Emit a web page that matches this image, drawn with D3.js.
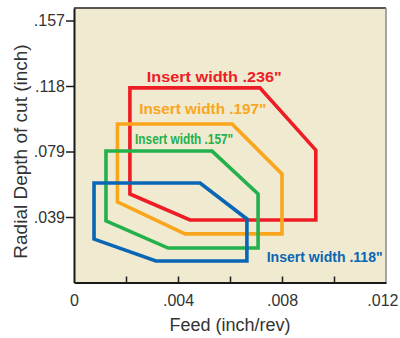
<!DOCTYPE html>
<html><head><meta charset="utf-8">
<script src="https://cdn.jsdelivr.net/npm/d3@7"></script>
<style>
html,body{margin:0;padding:0;background:#fff;}
svg{display:block;font-family:"Liberation Sans",Arial,Helvetica,sans-serif;}
</style></head>
<body><svg id="c" width="400" height="338"></svg>
<script>
// ---- data ----
const series = ["Insert width .236\"", "Insert width .197\"", "Insert width .157\"", "Insert width .118\""];
const redX = [0.00215, 0.00715, 0.0093, 0.0093, 0.00446, 0.00215];
const redY = [0.117, 0.117, 0.0796, 0.0376, 0.0376, 0.0532];
const orangeX = [0.00167, 0.00608, 0.0080, 0.0080, 0.00427, 0.00167];
const orangeY = [0.0953, 0.0953, 0.0652, 0.0292, 0.0292, 0.0484];
const greenX = [0.00123, 0.00531, 0.00708, 0.00708, 0.00362, 0.00123];
const greenY = [0.0790, 0.0790, 0.0532, 0.0207, 0.0207, 0.0370];
const blueX = [0.00077, 0.00485, 0.00665, 0.00665, 0.00315, 0.00077];
const blueY = [0.0598, 0.0598, 0.0382, 0.0129, 0.0129, 0.0261];
const yTickValues = [0.03937, 0.07874, 0.11811, 0.15748];
const yTickLabels = [".039", ".079", ".118", ".157"];
const xTickValues = [0, 0.002, 0.004, 0.006, 0.008, 0.010, 0.012];
const xTickLabels = ["0", "", ".004", "", ".008", "", ".012"];
const xTitle = "Feed (inch/rev)";
const yTitle = "Radial Depth of cut (inch)";

// ---- layout / style ----
const colors = ["#ee1d25", "#f9a61c", "#24b04b", "#0866b4"];
const labelAnchors = [[0.0028, 0.1208, 135], [0.00251, 0.1013, 127], [0.00235, 0.0833, 98], [0.00741, 0.0126, 116]];

const svg = d3.select("#c");
const L = 74, R = 386, T = 8, B = 282.5;
const x = d3.scaleLinear().domain([0, 0.012]).range([L, R]);
const y = d3.scaleLinear().domain([0, 0.165]).range([B, T]);

svg.append("rect").attr("x", L).attr("y", T).attr("width", R - L).attr("height", B - T).attr("fill", "#f0ead1");

const polys = [[redX, redY], [orangeX, orangeY], [greenX, greenY], [blueX, blueY]];
const line = d3.line().x(d => x(d[0])).y(d => y(d[1])).curve(d3.curveLinearClosed);
polys.forEach((p, i) => {
  const pts = p[0].map((v, k) => [v, p[1][k]]);
  svg.append("path").attr("d", line(pts)).attr("fill", "none")
    .attr("stroke", colors[i]).attr("stroke-width", 3.6).attr("stroke-linejoin", "miter");
});

series.forEach((s, i) => {
  const a = labelAnchors[i];
  svg.append("text").attr("x", x(a[0])).attr("y", y(a[1]))
    .attr("fill", colors[i]).attr("font-weight", "bold").attr("font-size", 15)
    .attr("textLength", a[2]).attr("lengthAdjust", "spacingAndGlyphs").text(s);
});

// frame top/right
svg.append("line").attr("x1", L).attr("x2", R).attr("y1", T).attr("y2", T).attr("stroke", "#222").attr("stroke-width", 1.5);
svg.append("line").attr("x1", R).attr("x2", R).attr("y1", T).attr("y2", B).attr("stroke", "#8a8a8a").attr("stroke-width", 1.5);

const yAxis = d3.axisLeft(y).tickValues(yTickValues).tickFormat((d, i) => yTickLabels[i]).tickSizeInner(8).tickSizeOuter(0).tickPadding(1);
const gy = svg.append("g").attr("transform", `translate(${L},0)`).call(yAxis);
const xAxis = d3.axisBottom(x).tickValues(xTickValues).tickFormat((d, i) => xTickLabels[i]).tickSizeInner(-6).tickSizeOuter(0).tickPadding(11.8);
const gx = svg.append("g").attr("transform", `translate(0,${B})`).call(xAxis);
[gx, gy].forEach(g => {
  g.select(".domain").attr("stroke", "#1a1a1a").attr("stroke-width", 2);
  g.selectAll(".tick line").attr("stroke", "#1a1a1a").attr("stroke-width", 1.5);
  g.selectAll(".tick text").attr("fill", "#333").attr("font-size", 16).attr("font-family", "Liberation Sans, Arial, sans-serif");
});
gx.selectAll(".tick").filter((d, i) => i === 0 || i === xTickValues.length - 1).select("line").remove();
gx.selectAll(".tick").filter((d, i) => i === xTickValues.length - 1).select("text").attr("text-anchor", "end").attr("dx", 12);

svg.append("text").attr("x", 230).attr("y", 330.5).attr("text-anchor", "middle")
  .attr("font-size", 18).attr("fill", "#333").text(xTitle);
svg.append("text").attr("transform", "translate(27,151.5) rotate(-90)").attr("text-anchor", "middle")
  .attr("font-size", 19).attr("fill", "#333").text(yTitle);
</script></body></html>
